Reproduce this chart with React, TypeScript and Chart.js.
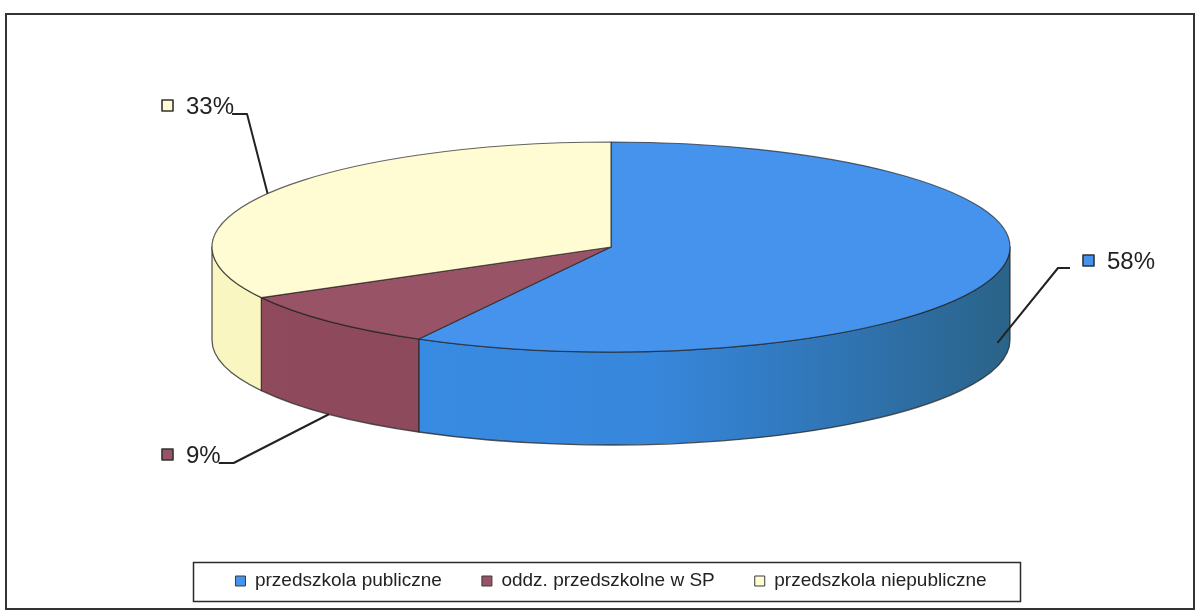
import React, { useEffect, useRef } from "react";
import { Chart, registerables } from "chart.js";

Chart.register(...registerables);

// ---- data ----
const categories = ["przedszkola publiczne", "oddz. przedszkolne w SP", "przedszkola niepubliczne"];
const shares = [58, 9, 33];

// ---- styles ----
const topColors = ["#4693ee", "#995366", "#fffcd3"];
const sideStops: [number, string][][] = [
  [[0, "#3a8fe8"], [0.55, "#3787dc"], [0.78, "#3075b5"], [1, "#2a6388"]],
  [[0, "#8f4a5e"], [1, "#8a4759"]],
  [[0, "#f9f6c2"], [1, "#fbf8c8"]],
];
const RX = 399;
const RY = 105;
const DEPTH = 93;
const LABEL_FONT = "24px 'Liberation Sans', Arial, sans-serif";
// label placement: square left x, label center y, side of the leader, anchor drop (fraction of depth)
const labelPlacement = [
  { x: 1083, cy: 261, side: "right", drop: 0.75 },
  { x: 162, cy: 455, side: "left", drop: 1 },
  { x: 162, cy: 106, side: "left", drop: 0 },
];

const pie3dPlugin = {
  id: "pie3d",
  beforeDatasetsDraw(chart: any) {
    const ctx: CanvasRenderingContext2D = chart.ctx;
    const meta = chart.getDatasetMeta(0);
    const area = chart.chartArea;
    const arcs = meta.data.map((el: any) => el.getProps(["startAngle", "endAngle", "x", "y"], true));
    if (!arcs.length) return false;
    const cx = arcs[0].x;
    const cy = area.top + RY;
    const TAU = Math.PI * 2;

    ctx.save();
    ctx.lineJoin = "round";
    // side walls
    arcs.forEach((a: any, i: number) => {
      const grad = ctx.createLinearGradient(cx - RX, 0, cx + RX, 0);
      sideStops[i].forEach(([p, c]) => grad.addColorStop(p, c));
      for (let k = -1; k <= 1; k++) {
        const s = Math.max(a.startAngle, TAU * k);
        const e = Math.min(a.endAngle, TAU * k + Math.PI);
        if (e - s <= 1e-6) continue;
        ctx.beginPath();
        ctx.ellipse(cx, cy, RX, RY, 0, s, e, false);
        ctx.lineTo(cx + RX * Math.cos(e), cy + DEPTH + RY * Math.sin(e));
        ctx.ellipse(cx, cy + DEPTH, RX, RY, 0, e, s, true);
        ctx.closePath();
        ctx.fillStyle = grad;
        ctx.fill();
        ctx.strokeStyle = "rgba(35,35,35,0.75)";
        ctx.lineWidth = 1.3;
        ctx.stroke();
      }
    });
    // top faces
    arcs.forEach((a: any, i: number) => {
      ctx.beginPath();
      ctx.moveTo(cx, cy);
      ctx.ellipse(cx, cy, RX, RY, 0, a.startAngle, a.endAngle, false);
      ctx.closePath();
      ctx.fillStyle = topColors[i];
      ctx.fill();
      ctx.strokeStyle = "rgba(35,35,35,0.7)";
      ctx.lineWidth = 1.2;
      ctx.stroke();
    });

    // labels with leader lines
    const total = shares.reduce((s, v) => s + v, 0);
    ctx.font = LABEL_FONT;
    ctx.textBaseline = "middle";
    ctx.textAlign = "left";
    arcs.forEach((a: any, i: number) => {
      const lp = labelPlacement[i];
      const mid = (a.startAngle + a.endAngle) / 2;
      const ax = cx + RX * Math.cos(mid);
      const ay = cy + RY * Math.sin(mid) + DEPTH * lp.drop;
      const text = Math.round((shares[i] / total) * 100) + "%";
      // square
      ctx.fillStyle = topColors[i];
      ctx.fillRect(lp.x, lp.cy - 6, 11, 11);
      ctx.strokeStyle = "#333";
      ctx.lineWidth = 1.6;
      ctx.strokeRect(lp.x, lp.cy - 6, 11, 11);
      const tx = lp.x + 24;
      ctx.fillStyle = "#222";
      ctx.fillText(text, tx, lp.cy + 1);
      const tw = ctx.measureText(text).width;
      ctx.beginPath();
      ctx.strokeStyle = "#222";
      ctx.lineWidth = 2;
      if (lp.side === "left") {
        const y = lp.cy + 8;
        ctx.moveTo(tx + tw - 2, y);
        ctx.lineTo(tx + tw + 13, y);
      } else {
        const y = lp.cy + 7;
        ctx.moveTo(lp.x - 13, y);
        ctx.lineTo(lp.x - 25, y);
      }
      ctx.lineTo(ax, ay);
      ctx.stroke();
    });
    ctx.restore();
    return false;
  },
  afterDraw(chart: any) {
    const ctx: CanvasRenderingContext2D = chart.ctx;
    ctx.save();
    // legend frame
    const lg = chart.legend;
    if (lg && lg.legendHitBoxes && lg.legendHitBoxes.length) {
      const hb = lg.legendHitBoxes;
      const left = Math.min(...hb.map((h: any) => h.left)) - 42;
      const right = Math.max(...hb.map((h: any) => h.left + h.width)) + 34;
      const midY = hb[0].top + hb[0].height / 2;
      ctx.strokeStyle = "#2a2a2a";
      ctx.lineWidth = 1.5;
      ctx.strokeRect(Math.round(left) + 0.5, Math.round(midY - 19) + 0.5, Math.round(right - left), 39);
    }
    // outer frame
    ctx.strokeStyle = "#333";
    ctx.lineWidth = 2;
    ctx.strokeRect(6, 14, 1188, 595);
    ctx.restore();
  },
};

export default function App() {
  const ref = useRef<HTMLCanvasElement | null>(null);
  useEffect(() => {
    document.body.style.margin = "0";
    if (!ref.current) return;
    const chart = new Chart(ref.current, {
      type: "pie",
      data: {
        labels: categories,
        datasets: [
          {
            data: shares,
            backgroundColor: topColors,
            borderColor: "#3a3a3a",
            borderWidth: 1,
          },
        ],
      },
      options: {
        animation: false,
        responsive: true,
        maintainAspectRatio: false,
        layout: { padding: { left: 22, right: 0, top: 142, bottom: 10.5 } },
        plugins: {
          tooltip: { enabled: false },
          legend: {
            position: "bottom",
            labels: {
              boxWidth: 10,
              boxHeight: 10,
              padding: 40,
              color: "#222",
              font: { family: "'Liberation Sans', Arial, sans-serif", size: 19 },
            },
          },
        },
      },
      plugins: [pie3dPlugin],
    } as any);
    return () => chart.destroy();
  }, []);
  return (
    <div style={{ width: 1200, height: 611, position: "relative", background: "#fff" }}>
      <canvas ref={ref} />
    </div>
  );
}
